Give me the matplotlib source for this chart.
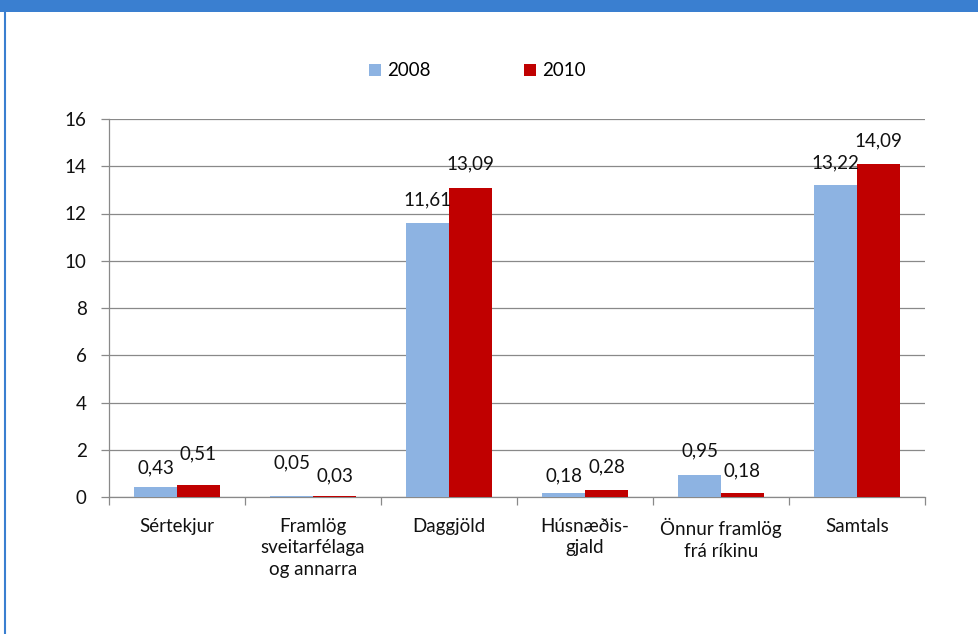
import numpy as np
import matplotlib.pyplot as plt
from matplotlib.patches import Rectangle
from matplotlib.lines import Line2D

plt.rcParams['font.family'] = ['Lato', 'DejaVu Sans']

categories = ["Sértekjur", "Framlög\nsveitarfélaga\nog annarra", "Daggjöld",
              "Húsnæðis-\ngjald", "Önnur framlög\nfrá ríkinu", "Samtals"]
values_2008 = [0.43, 0.05, 11.61, 0.18, 0.95, 13.22]
values_2010 = [0.51, 0.03, 13.09, 0.28, 0.18, 14.09]
series_names = ["2008", "2010"]
colors = ["#8DB3E2", "#C00000"]

# distance (px) from bar top to label centre, as placed in the original
label_lift_2008 = [19, 33, 23, 17, 24, 22]
label_lift_2010 = [31, 20, 24, 24, 22, 23]

W, H = 979, 634
FS = 13.5
fig = plt.figure(figsize=(W / 100, H / 100), dpi=100)

# header bar and left border
fig.patches.append(Rectangle((0, 1 - 12 / H), 1, 12 / H, transform=fig.transFigure,
                             facecolor="#3A7FD0", edgecolor="none"))
fig.lines.append(Line2D([5.5 / W, 5.5 / W], [0, 1 - 12 / H], transform=fig.transFigure,
                        color="#3A7FD0", linewidth=1.5))

left, right, bottom, top = 109, 925, 497, 119
ax = fig.add_axes([left / W, 1 - bottom / H, (right - left) / W, (bottom - top) / H])

x = np.arange(len(categories))
bw = 0.316
b1 = ax.bar(x - bw / 2, values_2008, bw, color=colors[0], label=series_names[0], zorder=3)
b2 = ax.bar(x + bw / 2, values_2010, bw, color=colors[1], label=series_names[1], zorder=3)

for bars, vals, lifts in [(b1, values_2008, label_lift_2008), (b2, values_2010, label_lift_2010)]:
    for rect, v, lift in zip(bars, vals, lifts):
        ax.annotate(f"{v:.2f}".replace(".", ","), (rect.get_x() + rect.get_width() / 2, v),
                    xytext=(0, lift * 0.72), textcoords="offset points", ha="center",
                    va="center", fontsize=FS, color="#111111", zorder=4)

ax.set_xlim(-0.5, len(categories) - 0.5)
ax.set_ylim(0, 16)
ax.set_yticks(np.arange(0, 17, 2))
ax.yaxis.grid(True, color="#898989", linewidth=0.9, zorder=0)
ax.set_axisbelow(True)

ax.set_xticks(x)
ax.set_xticklabels(categories, fontsize=FS, color="#111111", linespacing=1.33, va="top")
ax.set_xticks(np.arange(-0.5, len(categories), 1), minor=True)
ax.tick_params(axis="x", which="major", length=0, pad=15)
ax.tick_params(axis="x", which="minor", length=6, color="#898989", width=0.9)
ax.tick_params(axis="y", length=6, color="#898989", width=0.9, labelsize=FS,
               labelcolor="#111111", pad=10)

for s in ["top", "right"]:
    ax.spines[s].set_visible(False)
for s in ["left", "bottom"]:
    ax.spines[s].set_color("#898989")
    ax.spines[s].set_linewidth(0.9)

fig.legend(handles=[b1, b2], loc="center", bbox_to_anchor=(477.5 / W, 1 - 71 / H), ncol=2,
           frameon=False, fontsize=FS, handlelength=0.64, handleheight=0.64,
           handletextpad=0.3, columnspacing=5.0, borderpad=0)

fig.savefig("out.png", dpi=100)
